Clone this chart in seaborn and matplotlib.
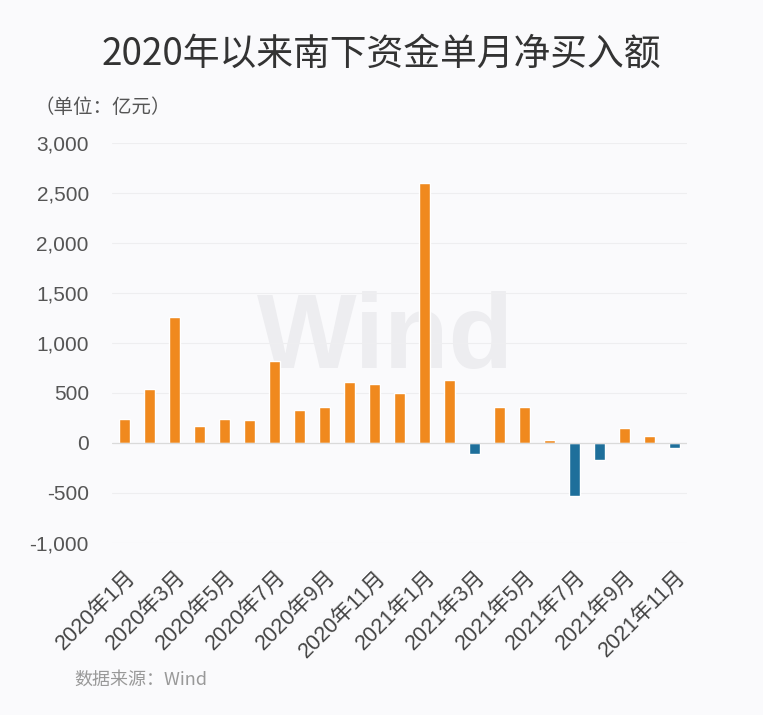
import matplotlib
matplotlib.use("Agg")
import matplotlib.pyplot as plt
import seaborn as sns
import pandas as pd

months = [f"2020年{m}月" for m in range(1, 13)] + [f"2021年{m}月" for m in range(1, 12)]
values = [244, 537, 1257, 170, 240, 230, 817, 327, 357, 607, 587, 497,
          2600, 626, -107, 363, 363, 33, -533, -167, 147, 73, -53]
yticks = [-1000, -500, 0, 500, 1000, 1500, 2000, 2500, 3000]
title = "2020年以来南下资金单月净买入额"
unit = "（单位：亿元）"
source = "数据来源：Wind"

df = pd.DataFrame({"month": months, "value": values})
df["sign"] = ["pos" if v >= 0 else "neg" for v in values]

sns.set_theme(style="white")
plt.rcParams["font.family"] = ["Noto Sans CJK SC", "DejaVu Sans"]

fig = plt.figure(figsize=(7.63, 7.15), dpi=100, facecolor="#FAFAFC")
ax = fig.add_axes([0.1474, 0.2406, 0.7536, 0.5594])
ax.set_facecolor("#FAFAFC")

ax.text(0.505, 0.524, "Wind", transform=fig.transFigure, fontsize=76, fontweight="bold",
        color="#EDEDF0", ha="center", va="center", zorder=0, family=["Liberation Sans"])

sns.barplot(data=df, x="month", y="value", hue="sign", dodge=False, legend=False,
            palette={"pos": "#F0891E", "neg": "#1E6F9B"}, width=0.44,
            saturation=1, ax=ax, zorder=3)

ax.set_xlim(-0.5, len(months) - 0.5)
ax.set_ylim(-1000, 3000)
ax.set_yticks(yticks)
ax.set_yticklabels([f"{v:,}" for v in yticks], family=["Liberation Sans", "Noto Sans CJK SC"],
                   fontsize=15, color="#555555")
ax.set_xticks(range(0, len(months), 2))
ax.set_xticklabels(months[::2], rotation=45, ha="right", rotation_mode="anchor",
                   family=["Liberation Sans", "Noto Sans CJK SC"], fontsize=15.5, color="#444444")
ax.tick_params(axis="y", length=0, pad=17)
ax.tick_params(axis="x", length=0, pad=17)
for y in yticks:
    if y != 0:
        ax.axhline(y, color="#EEEEF0", lw=0.8, zorder=1)
ax.axhline(0, color="#DADADA", lw=0.9, zorder=4)
for s in ax.spines.values():
    s.set_visible(False)
ax.set_xlabel("")
ax.set_ylabel("")

fig.text(0.5, 0.925, title, ha="center", va="center", fontsize=26.5, color="#333333")
fig.text(0.045, 0.85, unit, ha="left", va="center", fontsize=14, color="#555555")
fig.text(0.098, 0.049, source, ha="left", va="center", fontsize=13, color="#999999",
         family=["Noto Sans CJK SC", "DejaVu Sans"])

fig.savefig("out.png", dpi=100, facecolor=fig.get_facecolor())
